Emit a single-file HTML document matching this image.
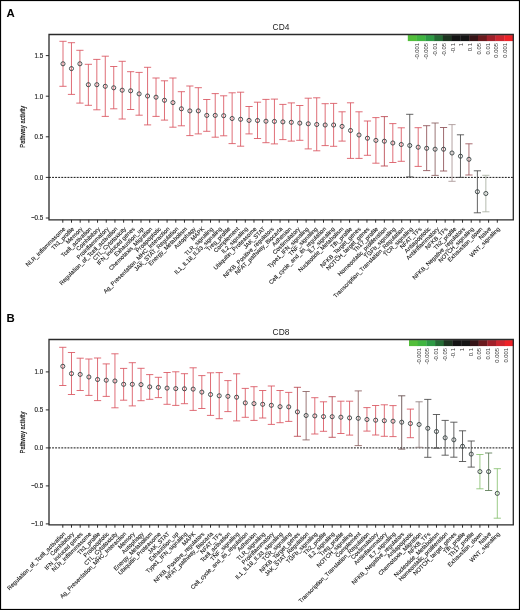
<!DOCTYPE html>
<html><head><meta charset="utf-8"><style>
html,body{margin:0;padding:0;background:#fff;}
body{width:520px;height:610px;overflow:hidden;}
svg{display:block;will-change:transform;}
</style></head><body>
<svg width="520" height="610" viewBox="0 0 520 610">
<rect x="0" y="0" width="520" height="610" fill="#fff"/>
<text x="6.6" y="16.6" style="font-family:'Liberation Sans',sans-serif;font-weight:bold;font-size:11.4px" fill="#000">A</text>
<text x="281" y="29.5" text-anchor="middle" style="font-family:'Liberation Sans',sans-serif;font-size:8.4px" fill="#222">CD4</text>
<rect x="407.80" y="35.1" width="9.07" height="6" fill="#52be3a"/>
<rect x="416.57" y="35.1" width="9.07" height="6" fill="#40b540"/>
<rect x="425.34" y="35.1" width="9.07" height="6" fill="#2d9a44"/>
<rect x="434.11" y="35.1" width="9.07" height="6" fill="#246a34"/>
<rect x="442.88" y="35.1" width="9.07" height="6" fill="#1d3320"/>
<rect x="451.65" y="35.1" width="9.07" height="6" fill="#141414"/>
<rect x="460.42" y="35.1" width="9.07" height="6" fill="#141414"/>
<rect x="469.19" y="35.1" width="9.07" height="6" fill="#361417"/>
<rect x="477.96" y="35.1" width="9.07" height="6" fill="#6a1a1e"/>
<rect x="486.73" y="35.1" width="9.07" height="6" fill="#a0202a"/>
<rect x="495.50" y="35.1" width="9.07" height="6" fill="#cc2630"/>
<rect x="504.27" y="35.1" width="9.07" height="6" fill="#ee2228"/>
<text x="419.47" y="43.10" transform="rotate(-90 419.47 43.10)" text-anchor="end" style="font-family:'Liberation Sans',sans-serif;font-size:5.8px" fill="#3a3a3a">-0.001</text>
<text x="428.24" y="43.10" transform="rotate(-90 428.24 43.10)" text-anchor="end" style="font-family:'Liberation Sans',sans-serif;font-size:5.8px" fill="#3a3a3a">-0.005</text>
<text x="437.01" y="43.10" transform="rotate(-90 437.01 43.10)" text-anchor="end" style="font-family:'Liberation Sans',sans-serif;font-size:5.8px" fill="#3a3a3a">-0.01</text>
<text x="445.78" y="43.10" transform="rotate(-90 445.78 43.10)" text-anchor="end" style="font-family:'Liberation Sans',sans-serif;font-size:5.8px" fill="#3a3a3a">-0.05</text>
<text x="454.55" y="43.10" transform="rotate(-90 454.55 43.10)" text-anchor="end" style="font-family:'Liberation Sans',sans-serif;font-size:5.8px" fill="#3a3a3a">-0.1</text>
<text x="463.32" y="43.10" transform="rotate(-90 463.32 43.10)" text-anchor="end" style="font-family:'Liberation Sans',sans-serif;font-size:5.8px" fill="#3a3a3a">1</text>
<text x="472.09" y="43.10" transform="rotate(-90 472.09 43.10)" text-anchor="end" style="font-family:'Liberation Sans',sans-serif;font-size:5.8px" fill="#3a3a3a">0.1</text>
<text x="480.86" y="43.10" transform="rotate(-90 480.86 43.10)" text-anchor="end" style="font-family:'Liberation Sans',sans-serif;font-size:5.8px" fill="#3a3a3a">0.05</text>
<text x="489.63" y="43.10" transform="rotate(-90 489.63 43.10)" text-anchor="end" style="font-family:'Liberation Sans',sans-serif;font-size:5.8px" fill="#3a3a3a">0.01</text>
<text x="498.40" y="43.10" transform="rotate(-90 498.40 43.10)" text-anchor="end" style="font-family:'Liberation Sans',sans-serif;font-size:5.8px" fill="#3a3a3a">0.005</text>
<text x="507.17" y="43.10" transform="rotate(-90 507.17 43.10)" text-anchor="end" style="font-family:'Liberation Sans',sans-serif;font-size:5.8px" fill="#3a3a3a">0.001</text>
<line x1="49" y1="177.4" x2="513.3" y2="177.4" stroke="#111" stroke-width="1" stroke-dasharray="1.9 1.18"/>
<g stroke="#d9545f" stroke-width="0.85" fill="none"><line x1="63.00" y1="41.3" x2="63.00" y2="86.3"/><line x1="59.40" y1="41.3" x2="66.60" y2="41.3"/><line x1="59.40" y1="86.3" x2="66.60" y2="86.3"/></g>
<circle cx="63.00" cy="63.8" r="2.05" fill="none" stroke="#344040" stroke-width="0.9"/>
<g stroke="#d9545f" stroke-width="0.85" fill="none"><line x1="71.46" y1="42.7" x2="71.46" y2="94.4"/><line x1="67.86" y1="42.7" x2="75.06" y2="42.7"/><line x1="67.86" y1="94.4" x2="75.06" y2="94.4"/></g>
<circle cx="71.46" cy="68.6" r="2.05" fill="none" stroke="#344040" stroke-width="0.9"/>
<g stroke="#d9545f" stroke-width="0.85" fill="none"><line x1="79.91" y1="50.3" x2="79.91" y2="103.1"/><line x1="76.31" y1="50.3" x2="83.51" y2="50.3"/><line x1="76.31" y1="103.1" x2="83.51" y2="103.1"/></g>
<circle cx="79.91" cy="63.8" r="2.05" fill="none" stroke="#344040" stroke-width="0.9"/>
<g stroke="#d9545f" stroke-width="0.85" fill="none"><line x1="88.37" y1="64.3" x2="88.37" y2="105.3"/><line x1="84.77" y1="64.3" x2="91.97" y2="64.3"/><line x1="84.77" y1="105.3" x2="91.97" y2="105.3"/></g>
<circle cx="88.37" cy="84.7" r="2.05" fill="none" stroke="#344040" stroke-width="0.9"/>
<g stroke="#d9545f" stroke-width="0.85" fill="none"><line x1="96.83" y1="59.4" x2="96.83" y2="109.8"/><line x1="93.23" y1="59.4" x2="100.43" y2="59.4"/><line x1="93.23" y1="109.8" x2="100.43" y2="109.8"/></g>
<circle cx="96.83" cy="84.7" r="2.05" fill="none" stroke="#344040" stroke-width="0.9"/>
<g stroke="#d9545f" stroke-width="0.85" fill="none"><line x1="105.28" y1="56.2" x2="105.28" y2="116.4"/><line x1="101.69" y1="56.2" x2="108.88" y2="56.2"/><line x1="101.69" y1="116.4" x2="108.88" y2="116.4"/></g>
<circle cx="105.28" cy="86.3" r="2.05" fill="none" stroke="#344040" stroke-width="0.9"/>
<g stroke="#d9545f" stroke-width="0.85" fill="none"><line x1="113.74" y1="66.5" x2="113.74" y2="108.8"/><line x1="110.14" y1="66.5" x2="117.34" y2="66.5"/><line x1="110.14" y1="108.8" x2="117.34" y2="108.8"/></g>
<circle cx="113.74" cy="87.8" r="2.05" fill="none" stroke="#344040" stroke-width="0.9"/>
<g stroke="#d9545f" stroke-width="0.85" fill="none"><line x1="122.20" y1="61.3" x2="122.20" y2="119.0"/><line x1="118.60" y1="61.3" x2="125.80" y2="61.3"/><line x1="118.60" y1="119.0" x2="125.80" y2="119.0"/></g>
<circle cx="122.20" cy="90.2" r="2.05" fill="none" stroke="#344040" stroke-width="0.9"/>
<g stroke="#d9545f" stroke-width="0.85" fill="none"><line x1="130.66" y1="71.7" x2="130.66" y2="109.5"/><line x1="127.06" y1="71.7" x2="134.26" y2="71.7"/><line x1="127.06" y1="109.5" x2="134.26" y2="109.5"/></g>
<circle cx="130.66" cy="90.8" r="2.05" fill="none" stroke="#344040" stroke-width="0.9"/>
<g stroke="#d9545f" stroke-width="0.85" fill="none"><line x1="139.11" y1="72.4" x2="139.11" y2="115.2"/><line x1="135.51" y1="72.4" x2="142.71" y2="72.4"/><line x1="135.51" y1="115.2" x2="142.71" y2="115.2"/></g>
<circle cx="139.11" cy="93.9" r="2.05" fill="none" stroke="#344040" stroke-width="0.9"/>
<g stroke="#d9545f" stroke-width="0.85" fill="none"><line x1="147.57" y1="67.3" x2="147.57" y2="124.9"/><line x1="143.97" y1="67.3" x2="151.17" y2="67.3"/><line x1="143.97" y1="124.9" x2="151.17" y2="124.9"/></g>
<circle cx="147.57" cy="96.0" r="2.05" fill="none" stroke="#344040" stroke-width="0.9"/>
<g stroke="#d9545f" stroke-width="0.85" fill="none"><line x1="156.03" y1="78.0" x2="156.03" y2="116.4"/><line x1="152.43" y1="78.0" x2="159.63" y2="78.0"/><line x1="152.43" y1="116.4" x2="159.63" y2="116.4"/></g>
<circle cx="156.03" cy="97.2" r="2.05" fill="none" stroke="#344040" stroke-width="0.9"/>
<g stroke="#d9545f" stroke-width="0.85" fill="none"><line x1="164.48" y1="80.8" x2="164.48" y2="120.1"/><line x1="160.88" y1="80.8" x2="168.08" y2="80.8"/><line x1="160.88" y1="120.1" x2="168.08" y2="120.1"/></g>
<circle cx="164.48" cy="100.3" r="2.05" fill="none" stroke="#344040" stroke-width="0.9"/>
<g stroke="#d9545f" stroke-width="0.85" fill="none"><line x1="172.94" y1="78.0" x2="172.94" y2="127.2"/><line x1="169.34" y1="78.0" x2="176.54" y2="78.0"/><line x1="169.34" y1="127.2" x2="176.54" y2="127.2"/></g>
<circle cx="172.94" cy="102.6" r="2.05" fill="none" stroke="#344040" stroke-width="0.9"/>
<g stroke="#d9545f" stroke-width="0.85" fill="none"><line x1="181.40" y1="91.7" x2="181.40" y2="125.8"/><line x1="177.80" y1="91.7" x2="185.00" y2="91.7"/><line x1="177.80" y1="125.8" x2="185.00" y2="125.8"/></g>
<circle cx="181.40" cy="108.8" r="2.05" fill="none" stroke="#344040" stroke-width="0.9"/>
<g stroke="#d9545f" stroke-width="0.85" fill="none"><line x1="189.86" y1="86.0" x2="189.86" y2="135.6"/><line x1="186.26" y1="86.0" x2="193.46" y2="86.0"/><line x1="186.26" y1="135.6" x2="193.46" y2="135.6"/></g>
<circle cx="189.86" cy="110.9" r="2.05" fill="none" stroke="#344040" stroke-width="0.9"/>
<g stroke="#d9545f" stroke-width="0.85" fill="none"><line x1="198.31" y1="87.7" x2="198.31" y2="133.9"/><line x1="194.71" y1="87.7" x2="201.91" y2="87.7"/><line x1="194.71" y1="133.9" x2="201.91" y2="133.9"/></g>
<circle cx="198.31" cy="110.9" r="2.05" fill="none" stroke="#344040" stroke-width="0.9"/>
<g stroke="#d9545f" stroke-width="0.85" fill="none"><line x1="206.77" y1="99.5" x2="206.77" y2="131.3"/><line x1="203.17" y1="99.5" x2="210.37" y2="99.5"/><line x1="203.17" y1="131.3" x2="210.37" y2="131.3"/></g>
<circle cx="206.77" cy="115.4" r="2.05" fill="none" stroke="#344040" stroke-width="0.9"/>
<g stroke="#d9545f" stroke-width="0.85" fill="none"><line x1="215.23" y1="93.6" x2="215.23" y2="137.2"/><line x1="211.63" y1="93.6" x2="218.83" y2="93.6"/><line x1="211.63" y1="137.2" x2="218.83" y2="137.2"/></g>
<circle cx="215.23" cy="115.4" r="2.05" fill="none" stroke="#344040" stroke-width="0.9"/>
<g stroke="#d9545f" stroke-width="0.85" fill="none"><line x1="223.68" y1="95.8" x2="223.68" y2="135.8"/><line x1="220.08" y1="95.8" x2="227.28" y2="95.8"/><line x1="220.08" y1="135.8" x2="227.28" y2="135.8"/></g>
<circle cx="223.68" cy="115.7" r="2.05" fill="none" stroke="#344040" stroke-width="0.9"/>
<g stroke="#d9545f" stroke-width="0.85" fill="none"><line x1="232.14" y1="92.8" x2="232.14" y2="143.6"/><line x1="228.54" y1="92.8" x2="235.74" y2="92.8"/><line x1="228.54" y1="143.6" x2="235.74" y2="143.6"/></g>
<circle cx="232.14" cy="118.5" r="2.05" fill="none" stroke="#344040" stroke-width="0.9"/>
<g stroke="#d9545f" stroke-width="0.85" fill="none"><line x1="240.60" y1="92.2" x2="240.60" y2="146.2"/><line x1="237.00" y1="92.2" x2="244.20" y2="92.2"/><line x1="237.00" y1="146.2" x2="244.20" y2="146.2"/></g>
<circle cx="240.60" cy="119.3" r="2.05" fill="none" stroke="#344040" stroke-width="0.9"/>
<g stroke="#d9545f" stroke-width="0.85" fill="none"><line x1="249.05" y1="106.5" x2="249.05" y2="133.9"/><line x1="245.45" y1="106.5" x2="252.65" y2="106.5"/><line x1="245.45" y1="133.9" x2="252.65" y2="133.9"/></g>
<circle cx="249.05" cy="120.4" r="2.05" fill="none" stroke="#344040" stroke-width="0.9"/>
<g stroke="#d9545f" stroke-width="0.85" fill="none"><line x1="257.51" y1="102.2" x2="257.51" y2="138.5"/><line x1="253.91" y1="102.2" x2="261.11" y2="102.2"/><line x1="253.91" y1="138.5" x2="261.11" y2="138.5"/></g>
<circle cx="257.51" cy="120.5" r="2.05" fill="none" stroke="#344040" stroke-width="0.9"/>
<g stroke="#d9545f" stroke-width="0.85" fill="none"><line x1="265.97" y1="99.4" x2="265.97" y2="142.7"/><line x1="262.37" y1="99.4" x2="269.57" y2="99.4"/><line x1="262.37" y1="142.7" x2="269.57" y2="142.7"/></g>
<circle cx="265.97" cy="121.2" r="2.05" fill="none" stroke="#344040" stroke-width="0.9"/>
<g stroke="#d9545f" stroke-width="0.85" fill="none"><line x1="274.43" y1="99.1" x2="274.43" y2="143.9"/><line x1="270.82" y1="99.1" x2="278.03" y2="99.1"/><line x1="270.82" y1="143.9" x2="278.03" y2="143.9"/></g>
<circle cx="274.43" cy="121.4" r="2.05" fill="none" stroke="#344040" stroke-width="0.9"/>
<g stroke="#d9545f" stroke-width="0.85" fill="none"><line x1="282.88" y1="104.4" x2="282.88" y2="139.6"/><line x1="279.28" y1="104.4" x2="286.48" y2="104.4"/><line x1="279.28" y1="139.6" x2="286.48" y2="139.6"/></g>
<circle cx="282.88" cy="121.9" r="2.05" fill="none" stroke="#344040" stroke-width="0.9"/>
<g stroke="#d9545f" stroke-width="0.85" fill="none"><line x1="291.34" y1="102.9" x2="291.34" y2="141.1"/><line x1="287.74" y1="102.9" x2="294.94" y2="102.9"/><line x1="287.74" y1="141.1" x2="294.94" y2="141.1"/></g>
<circle cx="291.34" cy="122.3" r="2.05" fill="none" stroke="#344040" stroke-width="0.9"/>
<g stroke="#d9545f" stroke-width="0.85" fill="none"><line x1="299.80" y1="105.5" x2="299.80" y2="140.3"/><line x1="296.20" y1="105.5" x2="303.40" y2="105.5"/><line x1="296.20" y1="140.3" x2="303.40" y2="140.3"/></g>
<circle cx="299.80" cy="123.1" r="2.05" fill="none" stroke="#344040" stroke-width="0.9"/>
<g stroke="#d9545f" stroke-width="0.85" fill="none"><line x1="308.25" y1="98.2" x2="308.25" y2="148.9"/><line x1="304.65" y1="98.2" x2="311.85" y2="98.2"/><line x1="304.65" y1="148.9" x2="311.85" y2="148.9"/></g>
<circle cx="308.25" cy="123.8" r="2.05" fill="none" stroke="#344040" stroke-width="0.9"/>
<g stroke="#d9545f" stroke-width="0.85" fill="none"><line x1="316.71" y1="97.8" x2="316.71" y2="150.8"/><line x1="313.11" y1="97.8" x2="320.31" y2="97.8"/><line x1="313.11" y1="150.8" x2="320.31" y2="150.8"/></g>
<circle cx="316.71" cy="124.5" r="2.05" fill="none" stroke="#344040" stroke-width="0.9"/>
<g stroke="#d9545f" stroke-width="0.85" fill="none"><line x1="325.17" y1="103.7" x2="325.17" y2="145.6"/><line x1="321.57" y1="103.7" x2="328.77" y2="103.7"/><line x1="321.57" y1="145.6" x2="328.77" y2="145.6"/></g>
<circle cx="325.17" cy="125.0" r="2.05" fill="none" stroke="#344040" stroke-width="0.9"/>
<g stroke="#d9545f" stroke-width="0.85" fill="none"><line x1="333.62" y1="103.4" x2="333.62" y2="146.3"/><line x1="330.02" y1="103.4" x2="337.22" y2="103.4"/><line x1="330.02" y1="146.3" x2="337.22" y2="146.3"/></g>
<circle cx="333.62" cy="125.0" r="2.05" fill="none" stroke="#344040" stroke-width="0.9"/>
<g stroke="#d9545f" stroke-width="0.85" fill="none"><line x1="342.08" y1="111.8" x2="342.08" y2="141.1"/><line x1="338.48" y1="111.8" x2="345.68" y2="111.8"/><line x1="338.48" y1="141.1" x2="345.68" y2="141.1"/></g>
<circle cx="342.08" cy="126.4" r="2.05" fill="none" stroke="#344040" stroke-width="0.9"/>
<g stroke="#d9545f" stroke-width="0.85" fill="none"><line x1="350.54" y1="102.8" x2="350.54" y2="158.4"/><line x1="346.94" y1="102.8" x2="354.14" y2="102.8"/><line x1="346.94" y1="158.4" x2="354.14" y2="158.4"/></g>
<circle cx="350.54" cy="130.5" r="2.05" fill="none" stroke="#344040" stroke-width="0.9"/>
<g stroke="#d9545f" stroke-width="0.85" fill="none"><line x1="359.00" y1="111.8" x2="359.00" y2="158.4"/><line x1="355.39" y1="111.8" x2="362.60" y2="111.8"/><line x1="355.39" y1="158.4" x2="362.60" y2="158.4"/></g>
<circle cx="359.00" cy="135.0" r="2.05" fill="none" stroke="#344040" stroke-width="0.9"/>
<g stroke="#d9545f" stroke-width="0.85" fill="none"><line x1="367.45" y1="121.0" x2="367.45" y2="155.3"/><line x1="363.85" y1="121.0" x2="371.05" y2="121.0"/><line x1="363.85" y1="155.3" x2="371.05" y2="155.3"/></g>
<circle cx="367.45" cy="138.2" r="2.05" fill="none" stroke="#344040" stroke-width="0.9"/>
<g stroke="#d9545f" stroke-width="0.85" fill="none"><line x1="375.91" y1="117.6" x2="375.91" y2="163.2"/><line x1="372.31" y1="117.6" x2="379.51" y2="117.6"/><line x1="372.31" y1="163.2" x2="379.51" y2="163.2"/></g>
<circle cx="375.91" cy="140.4" r="2.05" fill="none" stroke="#344040" stroke-width="0.9"/>
<g stroke="#b8464f" stroke-width="0.85" fill="none"><line x1="384.37" y1="116.6" x2="384.37" y2="166.0"/><line x1="380.77" y1="116.6" x2="387.97" y2="116.6"/><line x1="380.77" y1="166.0" x2="387.97" y2="166.0"/></g>
<circle cx="384.37" cy="141.2" r="2.05" fill="none" stroke="#344040" stroke-width="0.9"/>
<g stroke="#d9545f" stroke-width="0.85" fill="none"><line x1="392.82" y1="123.6" x2="392.82" y2="162.5"/><line x1="389.22" y1="123.6" x2="396.42" y2="123.6"/><line x1="389.22" y1="162.5" x2="396.42" y2="162.5"/></g>
<circle cx="392.82" cy="143.0" r="2.05" fill="none" stroke="#344040" stroke-width="0.9"/>
<g stroke="#d9545f" stroke-width="0.85" fill="none"><line x1="401.28" y1="127.8" x2="401.28" y2="161.3"/><line x1="397.68" y1="127.8" x2="404.88" y2="127.8"/><line x1="397.68" y1="161.3" x2="404.88" y2="161.3"/></g>
<circle cx="401.28" cy="144.5" r="2.05" fill="none" stroke="#344040" stroke-width="0.9"/>
<g stroke="#484848" stroke-width="0.85" fill="none"><line x1="409.74" y1="114.3" x2="409.74" y2="176.9"/><line x1="406.14" y1="114.3" x2="413.34" y2="114.3"/><line x1="406.14" y1="176.9" x2="413.34" y2="176.9"/></g>
<circle cx="409.74" cy="145.5" r="2.05" fill="none" stroke="#344040" stroke-width="0.9"/>
<g stroke="#d9545f" stroke-width="0.85" fill="none"><line x1="418.19" y1="127.7" x2="418.19" y2="166.4"/><line x1="414.59" y1="127.7" x2="421.79" y2="127.7"/><line x1="414.59" y1="166.4" x2="421.79" y2="166.4"/></g>
<circle cx="418.19" cy="147.2" r="2.05" fill="none" stroke="#344040" stroke-width="0.9"/>
<g stroke="#8e5056" stroke-width="0.85" fill="none"><line x1="426.65" y1="125.7" x2="426.65" y2="170.6"/><line x1="423.05" y1="125.7" x2="430.25" y2="125.7"/><line x1="423.05" y1="170.6" x2="430.25" y2="170.6"/></g>
<circle cx="426.65" cy="148.3" r="2.05" fill="none" stroke="#344040" stroke-width="0.9"/>
<g stroke="#8a6060" stroke-width="0.85" fill="none"><line x1="435.11" y1="123.0" x2="435.11" y2="175.4"/><line x1="431.51" y1="123.0" x2="438.71" y2="123.0"/><line x1="431.51" y1="175.4" x2="438.71" y2="175.4"/></g>
<circle cx="435.11" cy="149.2" r="2.05" fill="none" stroke="#344040" stroke-width="0.9"/>
<g stroke="#8e5056" stroke-width="0.85" fill="none"><line x1="443.57" y1="127.5" x2="443.57" y2="171.0"/><line x1="439.97" y1="127.5" x2="447.17" y2="127.5"/><line x1="439.97" y1="171.0" x2="447.17" y2="171.0"/></g>
<circle cx="443.57" cy="149.2" r="2.05" fill="none" stroke="#344040" stroke-width="0.9"/>
<g stroke="#a89494" stroke-width="0.85" fill="none"><line x1="452.02" y1="124.6" x2="452.02" y2="181.3"/><line x1="448.42" y1="124.6" x2="455.62" y2="124.6"/><line x1="448.42" y1="181.3" x2="455.62" y2="181.3"/></g>
<circle cx="452.02" cy="153.0" r="2.05" fill="none" stroke="#344040" stroke-width="0.9"/>
<g stroke="#484848" stroke-width="0.85" fill="none"><line x1="460.48" y1="134.8" x2="460.48" y2="177.4"/><line x1="456.88" y1="134.8" x2="464.08" y2="134.8"/><line x1="456.88" y1="177.4" x2="464.08" y2="177.4"/></g>
<circle cx="460.48" cy="156.2" r="2.05" fill="none" stroke="#344040" stroke-width="0.9"/>
<g stroke="#9a5458" stroke-width="0.85" fill="none"><line x1="468.94" y1="143.8" x2="468.94" y2="175.0"/><line x1="465.34" y1="143.8" x2="472.54" y2="143.8"/><line x1="465.34" y1="175.0" x2="472.54" y2="175.0"/></g>
<circle cx="468.94" cy="159.3" r="2.05" fill="none" stroke="#344040" stroke-width="0.9"/>
<g stroke="#484848" stroke-width="0.85" fill="none"><line x1="477.39" y1="170.8" x2="477.39" y2="212.8"/><line x1="473.79" y1="170.8" x2="480.99" y2="170.8"/><line x1="473.79" y1="212.8" x2="480.99" y2="212.8"/></g>
<circle cx="477.39" cy="191.7" r="2.05" fill="none" stroke="#344040" stroke-width="0.9"/>
<g stroke="#a9b0a2" stroke-width="0.85" fill="none"><line x1="485.85" y1="175.3" x2="485.85" y2="211.8"/><line x1="482.25" y1="175.3" x2="489.45" y2="175.3"/><line x1="482.25" y1="211.8" x2="489.45" y2="211.8"/></g>
<circle cx="485.85" cy="193.5" r="2.05" fill="none" stroke="#344040" stroke-width="0.9"/>
<path d="M49 34.5H513.3V219.8H49Z" fill="none" stroke="#2a2a2a" stroke-width="1.3"/>
<line x1="45.8" y1="55.60" x2="49" y2="55.60" stroke="#2a2a2a" stroke-width="1"/>
<text transform="translate(43.2 57.90) scale(0.885 1)" text-anchor="end" style="font-family:'Liberation Sans',sans-serif;font-size:7px" fill="#1a1a1a" stroke="#1a1a1a" stroke-width="0.15">1.5</text>
<line x1="45.8" y1="96.20" x2="49" y2="96.20" stroke="#2a2a2a" stroke-width="1"/>
<text transform="translate(43.2 98.50) scale(0.885 1)" text-anchor="end" style="font-family:'Liberation Sans',sans-serif;font-size:7px" fill="#1a1a1a" stroke="#1a1a1a" stroke-width="0.15">1.0</text>
<line x1="45.8" y1="136.80" x2="49" y2="136.80" stroke="#2a2a2a" stroke-width="1"/>
<text transform="translate(43.2 139.10) scale(0.885 1)" text-anchor="end" style="font-family:'Liberation Sans',sans-serif;font-size:7px" fill="#1a1a1a" stroke="#1a1a1a" stroke-width="0.15">0.5</text>
<line x1="45.8" y1="177.40" x2="49" y2="177.40" stroke="#2a2a2a" stroke-width="1"/>
<text transform="translate(43.2 179.70) scale(0.885 1)" text-anchor="end" style="font-family:'Liberation Sans',sans-serif;font-size:7px" fill="#1a1a1a" stroke="#1a1a1a" stroke-width="0.15">0.0</text>
<line x1="45.8" y1="218.00" x2="49" y2="218.00" stroke="#2a2a2a" stroke-width="1"/>
<text transform="translate(43.2 220.30) scale(0.885 1)" text-anchor="end" style="font-family:'Liberation Sans',sans-serif;font-size:7px" fill="#1a1a1a" stroke="#1a1a1a" stroke-width="0.15">−0.5</text>
<text transform="translate(24.6 126.7) rotate(-90) scale(0.8 1)" text-anchor="middle" style="font-family:'Liberation Sans',sans-serif;font-size:7.3px" fill="#111" stroke="#111" stroke-width="0.2">Pathway activity</text>
<line x1="62.80" y1="219.8" x2="62.80" y2="222.70000000000002" stroke="#2a2a2a" stroke-width="1"/>
<text x="65.80" y="229.30" transform="rotate(-45 65.80 229.30)" text-anchor="end" style="font-family:'Liberation Sans',sans-serif;font-size:5.9px" fill="#111" stroke="#111" stroke-width="0.08">NLR_inflammasome</text>
<line x1="71.49" y1="219.8" x2="71.49" y2="222.70000000000002" stroke="#2a2a2a" stroke-width="1"/>
<text x="74.49" y="229.30" transform="rotate(-45 74.49 229.30)" text-anchor="end" style="font-family:'Liberation Sans',sans-serif;font-size:5.9px" fill="#111" stroke="#111" stroke-width="0.08">Th1_profile</text>
<line x1="80.18" y1="219.8" x2="80.18" y2="222.70000000000002" stroke="#2a2a2a" stroke-width="1"/>
<text x="83.18" y="229.30" transform="rotate(-45 83.18 229.30)" text-anchor="end" style="font-family:'Liberation Sans',sans-serif;font-size:5.9px" fill="#111" stroke="#111" stroke-width="0.08">Memory</text>
<line x1="88.87" y1="219.8" x2="88.87" y2="222.70000000000002" stroke="#2a2a2a" stroke-width="1"/>
<text x="91.87" y="229.30" transform="rotate(-45 91.87 229.30)" text-anchor="end" style="font-family:'Liberation Sans',sans-serif;font-size:5.9px" fill="#111" stroke="#111" stroke-width="0.08">Tcell_activation</text>
<line x1="97.56" y1="219.8" x2="97.56" y2="222.70000000000002" stroke="#2a2a2a" stroke-width="1"/>
<text x="100.56" y="229.30" transform="rotate(-45 100.56 229.30)" text-anchor="end" style="font-family:'Liberation Sans',sans-serif;font-size:5.9px" fill="#111" stroke="#111" stroke-width="0.08">Coinhibitory</text>
<line x1="106.25" y1="219.8" x2="106.25" y2="222.70000000000002" stroke="#2a2a2a" stroke-width="1"/>
<text x="109.25" y="229.30" transform="rotate(-45 109.25 229.30)" text-anchor="end" style="font-family:'Liberation Sans',sans-serif;font-size:5.9px" fill="#111" stroke="#111" stroke-width="0.08">Proinflammatory</text>
<line x1="114.94" y1="219.8" x2="114.94" y2="222.70000000000002" stroke="#2a2a2a" stroke-width="1"/>
<text x="117.94" y="229.30" transform="rotate(-45 117.94 229.30)" text-anchor="end" style="font-family:'Liberation Sans',sans-serif;font-size:5.9px" fill="#111" stroke="#111" stroke-width="0.08">Regulation_of_Tcell_activation</text>
<line x1="123.63" y1="219.8" x2="123.63" y2="222.70000000000002" stroke="#2a2a2a" stroke-width="1"/>
<text x="126.63" y="229.30" transform="rotate(-45 126.63 229.30)" text-anchor="end" style="font-family:'Liberation Sans',sans-serif;font-size:5.9px" fill="#111" stroke="#111" stroke-width="0.08">CTL_Cytotoxicity</text>
<line x1="132.32" y1="219.8" x2="132.32" y2="222.70000000000002" stroke="#2a2a2a" stroke-width="1"/>
<text x="135.32" y="229.30" transform="rotate(-45 135.32 229.30)" text-anchor="end" style="font-family:'Liberation Sans',sans-serif;font-size:5.9px" fill="#111" stroke="#111" stroke-width="0.08">IFN_induced genes</text>
<line x1="141.01" y1="219.8" x2="141.01" y2="222.70000000000002" stroke="#2a2a2a" stroke-width="1"/>
<text x="144.01" y="229.30" transform="rotate(-45 144.01 229.30)" text-anchor="end" style="font-family:'Liberation Sans',sans-serif;font-size:5.9px" fill="#111" stroke="#111" stroke-width="0.08">Exhaustion_up</text>
<line x1="149.70" y1="219.8" x2="149.70" y2="222.70000000000002" stroke="#2a2a2a" stroke-width="1"/>
<text x="152.70" y="229.30" transform="rotate(-45 152.70 229.30)" text-anchor="end" style="font-family:'Liberation Sans',sans-serif;font-size:5.9px" fill="#111" stroke="#111" stroke-width="0.08">Chemotaxis_Migration</text>
<line x1="158.39" y1="219.8" x2="158.39" y2="222.70000000000002" stroke="#2a2a2a" stroke-width="1"/>
<text x="161.39" y="229.30" transform="rotate(-45 161.39 229.30)" text-anchor="end" style="font-family:'Liberation Sans',sans-serif;font-size:5.9px" fill="#111" stroke="#111" stroke-width="0.08">Proapoptotic</text>
<line x1="167.08" y1="219.8" x2="167.08" y2="222.70000000000002" stroke="#2a2a2a" stroke-width="1"/>
<text x="170.08" y="229.30" transform="rotate(-45 170.08 229.30)" text-anchor="end" style="font-family:'Liberation Sans',sans-serif;font-size:5.9px" fill="#111" stroke="#111" stroke-width="0.08">Ag_Presentation_MHC_Interaction</text>
<line x1="175.77" y1="219.8" x2="175.77" y2="222.70000000000002" stroke="#2a2a2a" stroke-width="1"/>
<text x="178.77" y="229.30" transform="rotate(-45 178.77 229.30)" text-anchor="end" style="font-family:'Liberation Sans',sans-serif;font-size:5.9px" fill="#111" stroke="#111" stroke-width="0.08">JAK_STAT_Regulation</text>
<line x1="184.46" y1="219.8" x2="184.46" y2="222.70000000000002" stroke="#2a2a2a" stroke-width="1"/>
<text x="187.46" y="229.30" transform="rotate(-45 187.46 229.30)" text-anchor="end" style="font-family:'Liberation Sans',sans-serif;font-size:5.9px" fill="#111" stroke="#111" stroke-width="0.08">Energy_Metabolism</text>
<line x1="193.15" y1="219.8" x2="193.15" y2="222.70000000000002" stroke="#2a2a2a" stroke-width="1"/>
<text x="196.15" y="229.30" transform="rotate(-45 196.15 229.30)" text-anchor="end" style="font-family:'Liberation Sans',sans-serif;font-size:5.9px" fill="#111" stroke="#111" stroke-width="0.08">Autophagy</text>
<line x1="201.84" y1="219.8" x2="201.84" y2="222.70000000000002" stroke="#2a2a2a" stroke-width="1"/>
<text x="204.84" y="229.30" transform="rotate(-45 204.84 229.30)" text-anchor="end" style="font-family:'Liberation Sans',sans-serif;font-size:5.9px" fill="#111" stroke="#111" stroke-width="0.08">MAPK</text>
<line x1="210.53" y1="219.8" x2="210.53" y2="222.70000000000002" stroke="#2a2a2a" stroke-width="1"/>
<text x="213.53" y="229.30" transform="rotate(-45 213.53 229.30)" text-anchor="end" style="font-family:'Liberation Sans',sans-serif;font-size:5.9px" fill="#111" stroke="#111" stroke-width="0.08">TLR_signaling</text>
<line x1="219.22" y1="219.8" x2="219.22" y2="222.70000000000002" stroke="#2a2a2a" stroke-width="1"/>
<text x="222.22" y="229.30" transform="rotate(-45 222.22 229.30)" text-anchor="end" style="font-family:'Liberation Sans',sans-serif;font-size:5.9px" fill="#111" stroke="#111" stroke-width="0.08">IL1_IL18_IL33_signaling</text>
<line x1="227.91" y1="219.8" x2="227.91" y2="222.70000000000002" stroke="#2a2a2a" stroke-width="1"/>
<text x="230.91" y="229.30" transform="rotate(-45 230.91 229.30)" text-anchor="end" style="font-family:'Liberation Sans',sans-serif;font-size:5.9px" fill="#111" stroke="#111" stroke-width="0.08">Treg_profile</text>
<line x1="236.60" y1="219.8" x2="236.60" y2="222.70000000000002" stroke="#2a2a2a" stroke-width="1"/>
<text x="239.60" y="229.30" transform="rotate(-45 239.60 229.30)" text-anchor="end" style="font-family:'Liberation Sans',sans-serif;font-size:5.9px" fill="#111" stroke="#111" stroke-width="0.08">Complement</text>
<line x1="245.29" y1="219.8" x2="245.29" y2="222.70000000000002" stroke="#2a2a2a" stroke-width="1"/>
<text x="248.29" y="229.30" transform="rotate(-45 248.29 229.30)" text-anchor="end" style="font-family:'Liberation Sans',sans-serif;font-size:5.9px" fill="#111" stroke="#111" stroke-width="0.08">IL2_signaling</text>
<line x1="253.98" y1="219.8" x2="253.98" y2="222.70000000000002" stroke="#2a2a2a" stroke-width="1"/>
<text x="256.98" y="229.30" transform="rotate(-45 256.98 229.30)" text-anchor="end" style="font-family:'Liberation Sans',sans-serif;font-size:5.9px" fill="#111" stroke="#111" stroke-width="0.08">Ubiquitin_Proteasome</text>
<line x1="262.67" y1="219.8" x2="262.67" y2="222.70000000000002" stroke="#2a2a2a" stroke-width="1"/>
<text x="265.67" y="229.30" transform="rotate(-45 265.67 229.30)" text-anchor="end" style="font-family:'Liberation Sans',sans-serif;font-size:5.9px" fill="#111" stroke="#111" stroke-width="0.08">JAK_STAT</text>
<line x1="271.36" y1="219.8" x2="271.36" y2="222.70000000000002" stroke="#2a2a2a" stroke-width="1"/>
<text x="274.36" y="229.30" transform="rotate(-45 274.36 229.30)" text-anchor="end" style="font-family:'Liberation Sans',sans-serif;font-size:5.9px" fill="#111" stroke="#111" stroke-width="0.08">NFKB_Positive_regulators</text>
<line x1="280.05" y1="219.8" x2="280.05" y2="222.70000000000002" stroke="#2a2a2a" stroke-width="1"/>
<text x="283.05" y="229.30" transform="rotate(-45 283.05 229.30)" text-anchor="end" style="font-family:'Liberation Sans',sans-serif;font-size:5.9px" fill="#111" stroke="#111" stroke-width="0.08">NFAT_pathway_Biocarta</text>
<line x1="288.74" y1="219.8" x2="288.74" y2="222.70000000000002" stroke="#2a2a2a" stroke-width="1"/>
<text x="291.74" y="229.30" transform="rotate(-45 291.74 229.30)" text-anchor="end" style="font-family:'Liberation Sans',sans-serif;font-size:5.9px" fill="#111" stroke="#111" stroke-width="0.08">Adhesion</text>
<line x1="297.43" y1="219.8" x2="297.43" y2="222.70000000000002" stroke="#2a2a2a" stroke-width="1"/>
<text x="300.43" y="229.30" transform="rotate(-45 300.43 229.30)" text-anchor="end" style="font-family:'Liberation Sans',sans-serif;font-size:5.9px" fill="#111" stroke="#111" stroke-width="0.08">Costimulatory</text>
<line x1="306.12" y1="219.8" x2="306.12" y2="222.70000000000002" stroke="#2a2a2a" stroke-width="1"/>
<text x="309.12" y="229.30" transform="rotate(-45 309.12 229.30)" text-anchor="end" style="font-family:'Liberation Sans',sans-serif;font-size:5.9px" fill="#111" stroke="#111" stroke-width="0.08">Type1_IFN_signaling</text>
<line x1="314.81" y1="219.8" x2="314.81" y2="222.70000000000002" stroke="#2a2a2a" stroke-width="1"/>
<text x="317.81" y="229.30" transform="rotate(-45 317.81 229.30)" text-anchor="end" style="font-family:'Liberation Sans',sans-serif;font-size:5.9px" fill="#111" stroke="#111" stroke-width="0.08">TNF_signaling</text>
<line x1="323.50" y1="219.8" x2="323.50" y2="222.70000000000002" stroke="#2a2a2a" stroke-width="1"/>
<text x="326.50" y="229.30" transform="rotate(-45 326.50 229.30)" text-anchor="end" style="font-family:'Liberation Sans',sans-serif;font-size:5.9px" fill="#111" stroke="#111" stroke-width="0.08">Cell_cycle_and_its_regulation</text>
<line x1="332.19" y1="219.8" x2="332.19" y2="222.70000000000002" stroke="#2a2a2a" stroke-width="1"/>
<text x="335.19" y="229.30" transform="rotate(-45 335.19 229.30)" text-anchor="end" style="font-family:'Liberation Sans',sans-serif;font-size:5.9px" fill="#111" stroke="#111" stroke-width="0.08">IL7_signaling</text>
<line x1="340.88" y1="219.8" x2="340.88" y2="222.70000000000002" stroke="#2a2a2a" stroke-width="1"/>
<text x="343.88" y="229.30" transform="rotate(-45 343.88 229.30)" text-anchor="end" style="font-family:'Liberation Sans',sans-serif;font-size:5.9px" fill="#111" stroke="#111" stroke-width="0.08">Nucleotide_Metabolism</text>
<line x1="349.57" y1="219.8" x2="349.57" y2="222.70000000000002" stroke="#2a2a2a" stroke-width="1"/>
<text x="352.57" y="229.30" transform="rotate(-45 352.57 229.30)" text-anchor="end" style="font-family:'Liberation Sans',sans-serif;font-size:5.9px" fill="#111" stroke="#111" stroke-width="0.08">Tfh_profile</text>
<line x1="358.26" y1="219.8" x2="358.26" y2="222.70000000000002" stroke="#2a2a2a" stroke-width="1"/>
<text x="361.26" y="229.30" transform="rotate(-45 361.26 229.30)" text-anchor="end" style="font-family:'Liberation Sans',sans-serif;font-size:5.9px" fill="#111" stroke="#111" stroke-width="0.08">NFKB_Target_genes</text>
<line x1="366.95" y1="219.8" x2="366.95" y2="222.70000000000002" stroke="#2a2a2a" stroke-width="1"/>
<text x="369.95" y="229.30" transform="rotate(-45 369.95 229.30)" text-anchor="end" style="font-family:'Liberation Sans',sans-serif;font-size:5.9px" fill="#111" stroke="#111" stroke-width="0.08">NOTCH_target_genes</text>
<line x1="375.64" y1="219.8" x2="375.64" y2="222.70000000000002" stroke="#2a2a2a" stroke-width="1"/>
<text x="378.64" y="229.30" transform="rotate(-45 378.64 229.30)" text-anchor="end" style="font-family:'Liberation Sans',sans-serif;font-size:5.9px" fill="#111" stroke="#111" stroke-width="0.08">Th17_profile</text>
<line x1="384.33" y1="219.8" x2="384.33" y2="222.70000000000002" stroke="#2a2a2a" stroke-width="1"/>
<text x="387.33" y="229.30" transform="rotate(-45 387.33 229.30)" text-anchor="end" style="font-family:'Liberation Sans',sans-serif;font-size:5.9px" fill="#111" stroke="#111" stroke-width="0.08">Homeostatic_proliferation</text>
<line x1="393.02" y1="219.8" x2="393.02" y2="222.70000000000002" stroke="#2a2a2a" stroke-width="1"/>
<text x="396.02" y="229.30" transform="rotate(-45 396.02 229.30)" text-anchor="end" style="font-family:'Liberation Sans',sans-serif;font-size:5.9px" fill="#111" stroke="#111" stroke-width="0.08">TGFb_signaling</text>
<line x1="401.71" y1="219.8" x2="401.71" y2="222.70000000000002" stroke="#2a2a2a" stroke-width="1"/>
<text x="404.71" y="229.30" transform="rotate(-45 404.71 229.30)" text-anchor="end" style="font-family:'Liberation Sans',sans-serif;font-size:5.9px" fill="#111" stroke="#111" stroke-width="0.08">Transcription_Translation_Regulation</text>
<line x1="410.40" y1="219.8" x2="410.40" y2="222.70000000000002" stroke="#2a2a2a" stroke-width="1"/>
<text x="413.40" y="229.30" transform="rotate(-45 413.40 229.30)" text-anchor="end" style="font-family:'Liberation Sans',sans-serif;font-size:5.9px" fill="#111" stroke="#111" stroke-width="0.08">TCR_signaling</text>
<line x1="419.09" y1="219.8" x2="419.09" y2="222.70000000000002" stroke="#2a2a2a" stroke-width="1"/>
<text x="422.09" y="229.30" transform="rotate(-45 422.09 229.30)" text-anchor="end" style="font-family:'Liberation Sans',sans-serif;font-size:5.9px" fill="#111" stroke="#111" stroke-width="0.08">NFAT_TFs</text>
<line x1="427.78" y1="219.8" x2="427.78" y2="222.70000000000002" stroke="#2a2a2a" stroke-width="1"/>
<text x="430.78" y="229.30" transform="rotate(-45 430.78 229.30)" text-anchor="end" style="font-family:'Liberation Sans',sans-serif;font-size:5.9px" fill="#111" stroke="#111" stroke-width="0.08">Antiapoptotic</text>
<line x1="436.47" y1="219.8" x2="436.47" y2="222.70000000000002" stroke="#2a2a2a" stroke-width="1"/>
<text x="439.47" y="229.30" transform="rotate(-45 439.47 229.30)" text-anchor="end" style="font-family:'Liberation Sans',sans-serif;font-size:5.9px" fill="#111" stroke="#111" stroke-width="0.08">Antiinflammatory</text>
<line x1="445.16" y1="219.8" x2="445.16" y2="222.70000000000002" stroke="#2a2a2a" stroke-width="1"/>
<text x="448.16" y="229.30" transform="rotate(-45 448.16 229.30)" text-anchor="end" style="font-family:'Liberation Sans',sans-serif;font-size:5.9px" fill="#111" stroke="#111" stroke-width="0.08">NFKB_TFs</text>
<line x1="453.85" y1="219.8" x2="453.85" y2="222.70000000000002" stroke="#2a2a2a" stroke-width="1"/>
<text x="456.85" y="229.30" transform="rotate(-45 456.85 229.30)" text-anchor="end" style="font-family:'Liberation Sans',sans-serif;font-size:5.9px" fill="#111" stroke="#111" stroke-width="0.08">Th2_profile</text>
<line x1="462.54" y1="219.8" x2="462.54" y2="222.70000000000002" stroke="#2a2a2a" stroke-width="1"/>
<text x="465.54" y="229.30" transform="rotate(-45 465.54 229.30)" text-anchor="end" style="font-family:'Liberation Sans',sans-serif;font-size:5.9px" fill="#111" stroke="#111" stroke-width="0.08">NFKB_Negative_regulators</text>
<line x1="471.23" y1="219.8" x2="471.23" y2="222.70000000000002" stroke="#2a2a2a" stroke-width="1"/>
<text x="474.23" y="229.30" transform="rotate(-45 474.23 229.30)" text-anchor="end" style="font-family:'Liberation Sans',sans-serif;font-size:5.9px" fill="#111" stroke="#111" stroke-width="0.08">NOTCH_signaling</text>
<line x1="479.92" y1="219.8" x2="479.92" y2="222.70000000000002" stroke="#2a2a2a" stroke-width="1"/>
<text x="482.92" y="229.30" transform="rotate(-45 482.92 229.30)" text-anchor="end" style="font-family:'Liberation Sans',sans-serif;font-size:5.9px" fill="#111" stroke="#111" stroke-width="0.08">Exhaustion_down</text>
<line x1="488.61" y1="219.8" x2="488.61" y2="222.70000000000002" stroke="#2a2a2a" stroke-width="1"/>
<text x="491.61" y="229.30" transform="rotate(-45 491.61 229.30)" text-anchor="end" style="font-family:'Liberation Sans',sans-serif;font-size:5.9px" fill="#111" stroke="#111" stroke-width="0.08">Naive</text>
<line x1="497.30" y1="219.8" x2="497.30" y2="222.70000000000002" stroke="#2a2a2a" stroke-width="1"/>
<text x="500.30" y="229.30" transform="rotate(-45 500.30 229.30)" text-anchor="end" style="font-family:'Liberation Sans',sans-serif;font-size:5.9px" fill="#111" stroke="#111" stroke-width="0.08">WNT_signaling</text>
<text x="6.6" y="322.0" style="font-family:'Liberation Sans',sans-serif;font-weight:bold;font-size:11.4px" fill="#000">B</text>
<text x="281" y="334.5" text-anchor="middle" style="font-family:'Liberation Sans',sans-serif;font-size:8.4px" fill="#222">CD8</text>
<rect x="409.00" y="340.1" width="9.00" height="6" fill="#52be3a"/>
<rect x="417.70" y="340.1" width="9.00" height="6" fill="#40b540"/>
<rect x="426.40" y="340.1" width="9.00" height="6" fill="#2d9a44"/>
<rect x="435.10" y="340.1" width="9.00" height="6" fill="#246a34"/>
<rect x="443.80" y="340.1" width="9.00" height="6" fill="#1d3320"/>
<rect x="452.50" y="340.1" width="9.00" height="6" fill="#141414"/>
<rect x="461.20" y="340.1" width="9.00" height="6" fill="#141414"/>
<rect x="469.90" y="340.1" width="9.00" height="6" fill="#361417"/>
<rect x="478.60" y="340.1" width="9.00" height="6" fill="#6a1a1e"/>
<rect x="487.30" y="340.1" width="9.00" height="6" fill="#a0202a"/>
<rect x="496.00" y="340.1" width="9.00" height="6" fill="#cc2630"/>
<rect x="504.70" y="340.1" width="9.00" height="6" fill="#ee2228"/>
<text x="420.60" y="348.10" transform="rotate(-90 420.60 348.10)" text-anchor="end" style="font-family:'Liberation Sans',sans-serif;font-size:5.8px" fill="#3a3a3a">-0.001</text>
<text x="429.30" y="348.10" transform="rotate(-90 429.30 348.10)" text-anchor="end" style="font-family:'Liberation Sans',sans-serif;font-size:5.8px" fill="#3a3a3a">-0.005</text>
<text x="438.00" y="348.10" transform="rotate(-90 438.00 348.10)" text-anchor="end" style="font-family:'Liberation Sans',sans-serif;font-size:5.8px" fill="#3a3a3a">-0.01</text>
<text x="446.70" y="348.10" transform="rotate(-90 446.70 348.10)" text-anchor="end" style="font-family:'Liberation Sans',sans-serif;font-size:5.8px" fill="#3a3a3a">-0.05</text>
<text x="455.40" y="348.10" transform="rotate(-90 455.40 348.10)" text-anchor="end" style="font-family:'Liberation Sans',sans-serif;font-size:5.8px" fill="#3a3a3a">-0.1</text>
<text x="464.10" y="348.10" transform="rotate(-90 464.10 348.10)" text-anchor="end" style="font-family:'Liberation Sans',sans-serif;font-size:5.8px" fill="#3a3a3a">1</text>
<text x="472.80" y="348.10" transform="rotate(-90 472.80 348.10)" text-anchor="end" style="font-family:'Liberation Sans',sans-serif;font-size:5.8px" fill="#3a3a3a">0.1</text>
<text x="481.50" y="348.10" transform="rotate(-90 481.50 348.10)" text-anchor="end" style="font-family:'Liberation Sans',sans-serif;font-size:5.8px" fill="#3a3a3a">0.05</text>
<text x="490.20" y="348.10" transform="rotate(-90 490.20 348.10)" text-anchor="end" style="font-family:'Liberation Sans',sans-serif;font-size:5.8px" fill="#3a3a3a">0.01</text>
<text x="498.90" y="348.10" transform="rotate(-90 498.90 348.10)" text-anchor="end" style="font-family:'Liberation Sans',sans-serif;font-size:5.8px" fill="#3a3a3a">0.005</text>
<text x="507.60" y="348.10" transform="rotate(-90 507.60 348.10)" text-anchor="end" style="font-family:'Liberation Sans',sans-serif;font-size:5.8px" fill="#3a3a3a">0.001</text>
<line x1="49" y1="447.9" x2="513.3" y2="447.9" stroke="#111" stroke-width="1" stroke-dasharray="1.9 1.18"/>
<g stroke="#d9545f" stroke-width="0.85" fill="none"><line x1="62.80" y1="347.3" x2="62.80" y2="385.5"/><line x1="59.20" y1="347.3" x2="66.40" y2="347.3"/><line x1="59.20" y1="385.5" x2="66.40" y2="385.5"/></g>
<circle cx="62.80" cy="366.3" r="2.05" fill="none" stroke="#344040" stroke-width="0.9"/>
<g stroke="#d9545f" stroke-width="0.85" fill="none"><line x1="71.49" y1="352.5" x2="71.49" y2="394.5"/><line x1="67.89" y1="352.5" x2="75.09" y2="352.5"/><line x1="67.89" y1="394.5" x2="75.09" y2="394.5"/></g>
<circle cx="71.49" cy="373.6" r="2.05" fill="none" stroke="#344040" stroke-width="0.9"/>
<g stroke="#d9545f" stroke-width="0.85" fill="none"><line x1="80.18" y1="358.2" x2="80.18" y2="390.5"/><line x1="76.58" y1="358.2" x2="83.78" y2="358.2"/><line x1="76.58" y1="390.5" x2="83.78" y2="390.5"/></g>
<circle cx="80.18" cy="374.4" r="2.05" fill="none" stroke="#344040" stroke-width="0.9"/>
<g stroke="#d9545f" stroke-width="0.85" fill="none"><line x1="88.87" y1="359.0" x2="88.87" y2="395.4"/><line x1="85.27" y1="359.0" x2="92.47" y2="359.0"/><line x1="85.27" y1="395.4" x2="92.47" y2="395.4"/></g>
<circle cx="88.87" cy="377.0" r="2.05" fill="none" stroke="#344040" stroke-width="0.9"/>
<g stroke="#d9545f" stroke-width="0.85" fill="none"><line x1="97.56" y1="358.0" x2="97.56" y2="400.6"/><line x1="93.96" y1="358.0" x2="101.16" y2="358.0"/><line x1="93.96" y1="400.6" x2="101.16" y2="400.6"/></g>
<circle cx="97.56" cy="379.5" r="2.05" fill="none" stroke="#344040" stroke-width="0.9"/>
<g stroke="#d9545f" stroke-width="0.85" fill="none"><line x1="106.25" y1="363.9" x2="106.25" y2="396.4"/><line x1="102.65" y1="363.9" x2="109.85" y2="363.9"/><line x1="102.65" y1="396.4" x2="109.85" y2="396.4"/></g>
<circle cx="106.25" cy="380.2" r="2.05" fill="none" stroke="#344040" stroke-width="0.9"/>
<g stroke="#d9545f" stroke-width="0.85" fill="none"><line x1="114.94" y1="353.8" x2="114.94" y2="407.8"/><line x1="111.34" y1="353.8" x2="118.54" y2="353.8"/><line x1="111.34" y1="407.8" x2="118.54" y2="407.8"/></g>
<circle cx="114.94" cy="381.0" r="2.05" fill="none" stroke="#344040" stroke-width="0.9"/>
<g stroke="#d9545f" stroke-width="0.85" fill="none"><line x1="123.63" y1="368.4" x2="123.63" y2="400.2"/><line x1="120.03" y1="368.4" x2="127.23" y2="368.4"/><line x1="120.03" y1="400.2" x2="127.23" y2="400.2"/></g>
<circle cx="123.63" cy="384.3" r="2.05" fill="none" stroke="#344040" stroke-width="0.9"/>
<g stroke="#d9545f" stroke-width="0.85" fill="none"><line x1="132.32" y1="362.7" x2="132.32" y2="405.9"/><line x1="128.72" y1="362.7" x2="135.92" y2="362.7"/><line x1="128.72" y1="405.9" x2="135.92" y2="405.9"/></g>
<circle cx="132.32" cy="384.3" r="2.05" fill="none" stroke="#344040" stroke-width="0.9"/>
<g stroke="#d9545f" stroke-width="0.85" fill="none"><line x1="141.01" y1="368.3" x2="141.01" y2="400.7"/><line x1="137.41" y1="368.3" x2="144.61" y2="368.3"/><line x1="137.41" y1="400.7" x2="144.61" y2="400.7"/></g>
<circle cx="141.01" cy="384.6" r="2.05" fill="none" stroke="#344040" stroke-width="0.9"/>
<g stroke="#d9545f" stroke-width="0.85" fill="none"><line x1="149.70" y1="374.6" x2="149.70" y2="399.3"/><line x1="146.10" y1="374.6" x2="153.30" y2="374.6"/><line x1="146.10" y1="399.3" x2="153.30" y2="399.3"/></g>
<circle cx="149.70" cy="386.9" r="2.05" fill="none" stroke="#344040" stroke-width="0.9"/>
<g stroke="#d9545f" stroke-width="0.85" fill="none"><line x1="158.39" y1="377.3" x2="158.39" y2="397.6"/><line x1="154.79" y1="377.3" x2="161.99" y2="377.3"/><line x1="154.79" y1="397.6" x2="161.99" y2="397.6"/></g>
<circle cx="158.39" cy="387.4" r="2.05" fill="none" stroke="#344040" stroke-width="0.9"/>
<g stroke="#d9545f" stroke-width="0.85" fill="none"><line x1="167.08" y1="372.5" x2="167.08" y2="404.3"/><line x1="163.48" y1="372.5" x2="170.68" y2="372.5"/><line x1="163.48" y1="404.3" x2="170.68" y2="404.3"/></g>
<circle cx="167.08" cy="388.1" r="2.05" fill="none" stroke="#344040" stroke-width="0.9"/>
<g stroke="#d9545f" stroke-width="0.85" fill="none"><line x1="175.77" y1="371.8" x2="175.77" y2="405.4"/><line x1="172.17" y1="371.8" x2="179.37" y2="371.8"/><line x1="172.17" y1="405.4" x2="179.37" y2="405.4"/></g>
<circle cx="175.77" cy="388.6" r="2.05" fill="none" stroke="#344040" stroke-width="0.9"/>
<g stroke="#d9545f" stroke-width="0.85" fill="none"><line x1="184.46" y1="373.7" x2="184.46" y2="403.7"/><line x1="180.86" y1="373.7" x2="188.06" y2="373.7"/><line x1="180.86" y1="403.7" x2="188.06" y2="403.7"/></g>
<circle cx="184.46" cy="388.8" r="2.05" fill="none" stroke="#344040" stroke-width="0.9"/>
<g stroke="#d9545f" stroke-width="0.85" fill="none"><line x1="193.15" y1="367.8" x2="193.15" y2="410.4"/><line x1="189.55" y1="367.8" x2="196.75" y2="367.8"/><line x1="189.55" y1="410.4" x2="196.75" y2="410.4"/></g>
<circle cx="193.15" cy="389.1" r="2.05" fill="none" stroke="#344040" stroke-width="0.9"/>
<g stroke="#d9545f" stroke-width="0.85" fill="none"><line x1="201.84" y1="375.6" x2="201.84" y2="408.5"/><line x1="198.24" y1="375.6" x2="205.44" y2="375.6"/><line x1="198.24" y1="408.5" x2="205.44" y2="408.5"/></g>
<circle cx="201.84" cy="392.1" r="2.05" fill="none" stroke="#344040" stroke-width="0.9"/>
<g stroke="#d9545f" stroke-width="0.85" fill="none"><line x1="210.53" y1="372.8" x2="210.53" y2="415.4"/><line x1="206.93" y1="372.8" x2="214.13" y2="372.8"/><line x1="206.93" y1="415.4" x2="214.13" y2="415.4"/></g>
<circle cx="210.53" cy="394.5" r="2.05" fill="none" stroke="#344040" stroke-width="0.9"/>
<g stroke="#d9545f" stroke-width="0.85" fill="none"><line x1="219.22" y1="372.6" x2="219.22" y2="418.7"/><line x1="215.62" y1="372.6" x2="222.82" y2="372.6"/><line x1="215.62" y1="418.7" x2="222.82" y2="418.7"/></g>
<circle cx="219.22" cy="395.8" r="2.05" fill="none" stroke="#344040" stroke-width="0.9"/>
<g stroke="#d9545f" stroke-width="0.85" fill="none"><line x1="227.91" y1="380.6" x2="227.91" y2="411.6"/><line x1="224.31" y1="380.6" x2="231.51" y2="380.6"/><line x1="224.31" y1="411.6" x2="231.51" y2="411.6"/></g>
<circle cx="227.91" cy="396.3" r="2.05" fill="none" stroke="#344040" stroke-width="0.9"/>
<g stroke="#d9545f" stroke-width="0.85" fill="none"><line x1="236.60" y1="373.8" x2="236.60" y2="420.9"/><line x1="233.00" y1="373.8" x2="240.20" y2="373.8"/><line x1="233.00" y1="420.9" x2="240.20" y2="420.9"/></g>
<circle cx="236.60" cy="397.2" r="2.05" fill="none" stroke="#344040" stroke-width="0.9"/>
<g stroke="#d9545f" stroke-width="0.85" fill="none"><line x1="245.29" y1="388.4" x2="245.29" y2="417.3"/><line x1="241.69" y1="388.4" x2="248.89" y2="388.4"/><line x1="241.69" y1="417.3" x2="248.89" y2="417.3"/></g>
<circle cx="245.29" cy="402.9" r="2.05" fill="none" stroke="#344040" stroke-width="0.9"/>
<g stroke="#d9545f" stroke-width="0.85" fill="none"><line x1="253.98" y1="386.7" x2="253.98" y2="420.4"/><line x1="250.38" y1="386.7" x2="257.58" y2="386.7"/><line x1="250.38" y1="420.4" x2="257.58" y2="420.4"/></g>
<circle cx="253.98" cy="403.6" r="2.05" fill="none" stroke="#344040" stroke-width="0.9"/>
<g stroke="#d9545f" stroke-width="0.85" fill="none"><line x1="262.67" y1="390.5" x2="262.67" y2="418.0"/><line x1="259.07" y1="390.5" x2="266.27" y2="390.5"/><line x1="259.07" y1="418.0" x2="266.27" y2="418.0"/></g>
<circle cx="262.67" cy="404.3" r="2.05" fill="none" stroke="#344040" stroke-width="0.9"/>
<g stroke="#d9545f" stroke-width="0.85" fill="none"><line x1="271.36" y1="386.0" x2="271.36" y2="424.4"/><line x1="267.76" y1="386.0" x2="274.96" y2="386.0"/><line x1="267.76" y1="424.4" x2="274.96" y2="424.4"/></g>
<circle cx="271.36" cy="405.3" r="2.05" fill="none" stroke="#344040" stroke-width="0.9"/>
<g stroke="#d9545f" stroke-width="0.85" fill="none"><line x1="280.05" y1="390.5" x2="280.05" y2="422.7"/><line x1="276.45" y1="390.5" x2="283.65" y2="390.5"/><line x1="276.45" y1="422.7" x2="283.65" y2="422.7"/></g>
<circle cx="280.05" cy="406.7" r="2.05" fill="none" stroke="#344040" stroke-width="0.9"/>
<g stroke="#d9545f" stroke-width="0.85" fill="none"><line x1="288.74" y1="392.4" x2="288.74" y2="421.4"/><line x1="285.14" y1="392.4" x2="292.34" y2="392.4"/><line x1="285.14" y1="421.4" x2="292.34" y2="421.4"/></g>
<circle cx="288.74" cy="406.9" r="2.05" fill="none" stroke="#344040" stroke-width="0.9"/>
<g stroke="#b8464f" stroke-width="0.85" fill="none"><line x1="297.43" y1="387.3" x2="297.43" y2="436.3"/><line x1="293.83" y1="387.3" x2="301.03" y2="387.3"/><line x1="293.83" y1="436.3" x2="301.03" y2="436.3"/></g>
<circle cx="297.43" cy="411.9" r="2.05" fill="none" stroke="#344040" stroke-width="0.9"/>
<g stroke="#8a6060" stroke-width="0.85" fill="none"><line x1="306.12" y1="391.5" x2="306.12" y2="439.9"/><line x1="302.52" y1="391.5" x2="309.72" y2="391.5"/><line x1="302.52" y1="439.9" x2="309.72" y2="439.9"/></g>
<circle cx="306.12" cy="415.5" r="2.05" fill="none" stroke="#344040" stroke-width="0.9"/>
<g stroke="#d9545f" stroke-width="0.85" fill="none"><line x1="314.81" y1="397.7" x2="314.81" y2="434.0"/><line x1="311.21" y1="397.7" x2="318.41" y2="397.7"/><line x1="311.21" y1="434.0" x2="318.41" y2="434.0"/></g>
<circle cx="314.81" cy="415.9" r="2.05" fill="none" stroke="#344040" stroke-width="0.9"/>
<g stroke="#d9545f" stroke-width="0.85" fill="none"><line x1="323.50" y1="401.8" x2="323.50" y2="431.3"/><line x1="319.90" y1="401.8" x2="327.10" y2="401.8"/><line x1="319.90" y1="431.3" x2="327.10" y2="431.3"/></g>
<circle cx="323.50" cy="416.6" r="2.05" fill="none" stroke="#344040" stroke-width="0.9"/>
<g stroke="#b8464f" stroke-width="0.85" fill="none"><line x1="332.19" y1="396.7" x2="332.19" y2="437.3"/><line x1="328.59" y1="396.7" x2="335.79" y2="396.7"/><line x1="328.59" y1="437.3" x2="335.79" y2="437.3"/></g>
<circle cx="332.19" cy="416.7" r="2.05" fill="none" stroke="#344040" stroke-width="0.9"/>
<g stroke="#d9545f" stroke-width="0.85" fill="none"><line x1="340.88" y1="401.2" x2="340.88" y2="433.5"/><line x1="337.28" y1="401.2" x2="344.48" y2="401.2"/><line x1="337.28" y1="433.5" x2="344.48" y2="433.5"/></g>
<circle cx="340.88" cy="417.2" r="2.05" fill="none" stroke="#344040" stroke-width="0.9"/>
<g stroke="#d9545f" stroke-width="0.85" fill="none"><line x1="349.57" y1="401.2" x2="349.57" y2="435.1"/><line x1="345.97" y1="401.2" x2="353.17" y2="401.2"/><line x1="345.97" y1="435.1" x2="353.17" y2="435.1"/></g>
<circle cx="349.57" cy="417.9" r="2.05" fill="none" stroke="#344040" stroke-width="0.9"/>
<g stroke="#8a6060" stroke-width="0.85" fill="none"><line x1="358.26" y1="390.9" x2="358.26" y2="445.6"/><line x1="354.66" y1="390.9" x2="361.86" y2="390.9"/><line x1="354.66" y1="445.6" x2="361.86" y2="445.6"/></g>
<circle cx="358.26" cy="418.3" r="2.05" fill="none" stroke="#344040" stroke-width="0.9"/>
<g stroke="#d9545f" stroke-width="0.85" fill="none"><line x1="366.95" y1="407.6" x2="366.95" y2="431.1"/><line x1="363.35" y1="407.6" x2="370.55" y2="407.6"/><line x1="363.35" y1="431.1" x2="370.55" y2="431.1"/></g>
<circle cx="366.95" cy="419.5" r="2.05" fill="none" stroke="#344040" stroke-width="0.9"/>
<g stroke="#d9545f" stroke-width="0.85" fill="none"><line x1="375.64" y1="405.5" x2="375.64" y2="435.0"/><line x1="372.04" y1="405.5" x2="379.24" y2="405.5"/><line x1="372.04" y1="435.0" x2="379.24" y2="435.0"/></g>
<circle cx="375.64" cy="420.2" r="2.05" fill="none" stroke="#344040" stroke-width="0.9"/>
<g stroke="#d9545f" stroke-width="0.85" fill="none"><line x1="384.33" y1="404.8" x2="384.33" y2="436.3"/><line x1="380.73" y1="404.8" x2="387.93" y2="404.8"/><line x1="380.73" y1="436.3" x2="387.93" y2="436.3"/></g>
<circle cx="384.33" cy="420.7" r="2.05" fill="none" stroke="#344040" stroke-width="0.9"/>
<g stroke="#d9545f" stroke-width="0.85" fill="none"><line x1="393.02" y1="405.6" x2="393.02" y2="436.6"/><line x1="389.42" y1="405.6" x2="396.62" y2="405.6"/><line x1="389.42" y1="436.6" x2="396.62" y2="436.6"/></g>
<circle cx="393.02" cy="421.2" r="2.05" fill="none" stroke="#344040" stroke-width="0.9"/>
<g stroke="#604848" stroke-width="0.85" fill="none"><line x1="401.71" y1="395.8" x2="401.71" y2="449.1"/><line x1="398.11" y1="395.8" x2="405.31" y2="395.8"/><line x1="398.11" y1="449.1" x2="405.31" y2="449.1"/></g>
<circle cx="401.71" cy="422.2" r="2.05" fill="none" stroke="#344040" stroke-width="0.9"/>
<g stroke="#d9545f" stroke-width="0.85" fill="none"><line x1="410.40" y1="409.1" x2="410.40" y2="437.7"/><line x1="406.80" y1="409.1" x2="414.00" y2="409.1"/><line x1="406.80" y1="437.7" x2="414.00" y2="437.7"/></g>
<circle cx="410.40" cy="423.5" r="2.05" fill="none" stroke="#344040" stroke-width="0.9"/>
<g stroke="#8c7c7c" stroke-width="0.85" fill="none"><line x1="419.09" y1="401.8" x2="419.09" y2="447.3"/><line x1="415.49" y1="401.8" x2="422.69" y2="401.8"/><line x1="415.49" y1="447.3" x2="422.69" y2="447.3"/></g>
<circle cx="419.09" cy="424.5" r="2.05" fill="none" stroke="#344040" stroke-width="0.9"/>
<g stroke="#484848" stroke-width="0.85" fill="none"><line x1="427.78" y1="399.4" x2="427.78" y2="457.3"/><line x1="424.18" y1="399.4" x2="431.38" y2="399.4"/><line x1="424.18" y1="457.3" x2="431.38" y2="457.3"/></g>
<circle cx="427.78" cy="428.3" r="2.05" fill="none" stroke="#344040" stroke-width="0.9"/>
<g stroke="#484848" stroke-width="0.85" fill="none"><line x1="436.47" y1="414.5" x2="436.47" y2="448.2"/><line x1="432.87" y1="414.5" x2="440.07" y2="414.5"/><line x1="432.87" y1="448.2" x2="440.07" y2="448.2"/></g>
<circle cx="436.47" cy="431.5" r="2.05" fill="none" stroke="#344040" stroke-width="0.9"/>
<g stroke="#484848" stroke-width="0.85" fill="none"><line x1="445.16" y1="420.4" x2="445.16" y2="455.2"/><line x1="441.56" y1="420.4" x2="448.76" y2="420.4"/><line x1="441.56" y1="455.2" x2="448.76" y2="455.2"/></g>
<circle cx="445.16" cy="437.8" r="2.05" fill="none" stroke="#344040" stroke-width="0.9"/>
<g stroke="#484848" stroke-width="0.85" fill="none"><line x1="453.85" y1="422.2" x2="453.85" y2="457.2"/><line x1="450.25" y1="422.2" x2="457.45" y2="422.2"/><line x1="450.25" y1="457.2" x2="457.45" y2="457.2"/></g>
<circle cx="453.85" cy="439.8" r="2.05" fill="none" stroke="#344040" stroke-width="0.9"/>
<g stroke="#484848" stroke-width="0.85" fill="none"><line x1="462.54" y1="430.8" x2="462.54" y2="461.5"/><line x1="458.94" y1="430.8" x2="466.14" y2="430.8"/><line x1="458.94" y1="461.5" x2="466.14" y2="461.5"/></g>
<circle cx="462.54" cy="446.3" r="2.05" fill="none" stroke="#344040" stroke-width="0.9"/>
<g stroke="#484848" stroke-width="0.85" fill="none"><line x1="471.23" y1="441.0" x2="471.23" y2="467.1"/><line x1="467.63" y1="441.0" x2="474.83" y2="441.0"/><line x1="467.63" y1="467.1" x2="474.83" y2="467.1"/></g>
<circle cx="471.23" cy="454.1" r="2.05" fill="none" stroke="#344040" stroke-width="0.9"/>
<g stroke="#88c070" stroke-width="0.85" fill="none"><line x1="479.92" y1="454.5" x2="479.92" y2="488.8"/><line x1="476.32" y1="454.5" x2="483.52" y2="454.5"/><line x1="476.32" y1="488.8" x2="483.52" y2="488.8"/></g>
<circle cx="479.92" cy="471.6" r="2.05" fill="none" stroke="#344040" stroke-width="0.9"/>
<g stroke="#587a52" stroke-width="0.85" fill="none"><line x1="488.61" y1="453.0" x2="488.61" y2="490.5"/><line x1="485.01" y1="453.0" x2="492.21" y2="453.0"/><line x1="485.01" y1="490.5" x2="492.21" y2="490.5"/></g>
<circle cx="488.61" cy="471.6" r="2.05" fill="none" stroke="#344040" stroke-width="0.9"/>
<g stroke="#88c070" stroke-width="0.85" fill="none"><line x1="497.30" y1="468.7" x2="497.30" y2="518.2"/><line x1="493.70" y1="468.7" x2="500.90" y2="468.7"/><line x1="493.70" y1="518.2" x2="500.90" y2="518.2"/></g>
<circle cx="497.30" cy="493.4" r="2.05" fill="none" stroke="#344040" stroke-width="0.9"/>
<path d="M49 339.5H513.3V524.8H49Z" fill="none" stroke="#2a2a2a" stroke-width="1.3"/>
<line x1="45.8" y1="371.90" x2="49" y2="371.90" stroke="#2a2a2a" stroke-width="1"/>
<text transform="translate(43.2 374.20) scale(0.885 1)" text-anchor="end" style="font-family:'Liberation Sans',sans-serif;font-size:7px" fill="#1a1a1a" stroke="#1a1a1a" stroke-width="0.15">1.0</text>
<line x1="45.8" y1="409.90" x2="49" y2="409.90" stroke="#2a2a2a" stroke-width="1"/>
<text transform="translate(43.2 412.20) scale(0.885 1)" text-anchor="end" style="font-family:'Liberation Sans',sans-serif;font-size:7px" fill="#1a1a1a" stroke="#1a1a1a" stroke-width="0.15">0.5</text>
<line x1="45.8" y1="447.90" x2="49" y2="447.90" stroke="#2a2a2a" stroke-width="1"/>
<text transform="translate(43.2 450.20) scale(0.885 1)" text-anchor="end" style="font-family:'Liberation Sans',sans-serif;font-size:7px" fill="#1a1a1a" stroke="#1a1a1a" stroke-width="0.15">0.0</text>
<line x1="45.8" y1="485.90" x2="49" y2="485.90" stroke="#2a2a2a" stroke-width="1"/>
<text transform="translate(43.2 488.20) scale(0.885 1)" text-anchor="end" style="font-family:'Liberation Sans',sans-serif;font-size:7px" fill="#1a1a1a" stroke="#1a1a1a" stroke-width="0.15">−0.5</text>
<line x1="45.8" y1="523.90" x2="49" y2="523.90" stroke="#2a2a2a" stroke-width="1"/>
<text transform="translate(43.2 526.20) scale(0.885 1)" text-anchor="end" style="font-family:'Liberation Sans',sans-serif;font-size:7px" fill="#1a1a1a" stroke="#1a1a1a" stroke-width="0.15">−1.0</text>
<text transform="translate(24.6 432.5) rotate(-90) scale(0.8 1)" text-anchor="middle" style="font-family:'Liberation Sans',sans-serif;font-size:7.3px" fill="#111" stroke="#111" stroke-width="0.2">Pathway activity</text>
<line x1="62.80" y1="524.8" x2="62.80" y2="527.6999999999999" stroke="#2a2a2a" stroke-width="1"/>
<text x="65.80" y="534.30" transform="rotate(-45 65.80 534.30)" text-anchor="end" style="font-family:'Liberation Sans',sans-serif;font-size:5.9px" fill="#111" stroke="#111" stroke-width="0.08">Regulation_of_Tcell_activation</text>
<line x1="71.49" y1="524.8" x2="71.49" y2="527.6999999999999" stroke="#2a2a2a" stroke-width="1"/>
<text x="74.49" y="534.30" transform="rotate(-45 74.49 534.30)" text-anchor="end" style="font-family:'Liberation Sans',sans-serif;font-size:5.9px" fill="#111" stroke="#111" stroke-width="0.08">Coinhibitory</text>
<line x1="80.18" y1="524.8" x2="80.18" y2="527.6999999999999" stroke="#2a2a2a" stroke-width="1"/>
<text x="83.18" y="534.30" transform="rotate(-45 83.18 534.30)" text-anchor="end" style="font-family:'Liberation Sans',sans-serif;font-size:5.9px" fill="#111" stroke="#111" stroke-width="0.08">IFN_induced genes</text>
<line x1="88.87" y1="524.8" x2="88.87" y2="527.6999999999999" stroke="#2a2a2a" stroke-width="1"/>
<text x="91.87" y="534.30" transform="rotate(-45 91.87 534.30)" text-anchor="end" style="font-family:'Liberation Sans',sans-serif;font-size:5.9px" fill="#111" stroke="#111" stroke-width="0.08">NLR_inflammasome</text>
<line x1="97.56" y1="524.8" x2="97.56" y2="527.6999999999999" stroke="#2a2a2a" stroke-width="1"/>
<text x="100.56" y="534.30" transform="rotate(-45 100.56 534.30)" text-anchor="end" style="font-family:'Liberation Sans',sans-serif;font-size:5.9px" fill="#111" stroke="#111" stroke-width="0.08">Th1_profile</text>
<line x1="106.25" y1="524.8" x2="106.25" y2="527.6999999999999" stroke="#2a2a2a" stroke-width="1"/>
<text x="109.25" y="534.30" transform="rotate(-45 109.25 534.30)" text-anchor="end" style="font-family:'Liberation Sans',sans-serif;font-size:5.9px" fill="#111" stroke="#111" stroke-width="0.08">Proapoptotic</text>
<line x1="114.94" y1="524.8" x2="114.94" y2="527.6999999999999" stroke="#2a2a2a" stroke-width="1"/>
<text x="117.94" y="534.30" transform="rotate(-45 117.94 534.30)" text-anchor="end" style="font-family:'Liberation Sans',sans-serif;font-size:5.9px" fill="#111" stroke="#111" stroke-width="0.08">CTL_Cytotoxicity</text>
<line x1="123.63" y1="524.8" x2="123.63" y2="527.6999999999999" stroke="#2a2a2a" stroke-width="1"/>
<text x="126.63" y="534.30" transform="rotate(-45 126.63 534.30)" text-anchor="end" style="font-family:'Liberation Sans',sans-serif;font-size:5.9px" fill="#111" stroke="#111" stroke-width="0.08">Ag_Presentation_MHC_Interaction</text>
<line x1="132.32" y1="524.8" x2="132.32" y2="527.6999999999999" stroke="#2a2a2a" stroke-width="1"/>
<text x="135.32" y="534.30" transform="rotate(-45 135.32 534.30)" text-anchor="end" style="font-family:'Liberation Sans',sans-serif;font-size:5.9px" fill="#111" stroke="#111" stroke-width="0.08">Memory</text>
<line x1="141.01" y1="524.8" x2="141.01" y2="527.6999999999999" stroke="#2a2a2a" stroke-width="1"/>
<text x="144.01" y="534.30" transform="rotate(-45 144.01 534.30)" text-anchor="end" style="font-family:'Liberation Sans',sans-serif;font-size:5.9px" fill="#111" stroke="#111" stroke-width="0.08">Autophagy</text>
<line x1="149.70" y1="524.8" x2="149.70" y2="527.6999999999999" stroke="#2a2a2a" stroke-width="1"/>
<text x="152.70" y="534.30" transform="rotate(-45 152.70 534.30)" text-anchor="end" style="font-family:'Liberation Sans',sans-serif;font-size:5.9px" fill="#111" stroke="#111" stroke-width="0.08">Energy_Metabolism</text>
<line x1="158.39" y1="524.8" x2="158.39" y2="527.6999999999999" stroke="#2a2a2a" stroke-width="1"/>
<text x="161.39" y="534.30" transform="rotate(-45 161.39 534.30)" text-anchor="end" style="font-family:'Liberation Sans',sans-serif;font-size:5.9px" fill="#111" stroke="#111" stroke-width="0.08">Ubiquitin_Proteasome</text>
<line x1="167.08" y1="524.8" x2="167.08" y2="527.6999999999999" stroke="#2a2a2a" stroke-width="1"/>
<text x="170.08" y="534.30" transform="rotate(-45 170.08 534.30)" text-anchor="end" style="font-family:'Liberation Sans',sans-serif;font-size:5.9px" fill="#111" stroke="#111" stroke-width="0.08">JAK_STAT</text>
<line x1="175.77" y1="524.8" x2="175.77" y2="527.6999999999999" stroke="#2a2a2a" stroke-width="1"/>
<text x="178.77" y="534.30" transform="rotate(-45 178.77 534.30)" text-anchor="end" style="font-family:'Liberation Sans',sans-serif;font-size:5.9px" fill="#111" stroke="#111" stroke-width="0.08">Exhaustion_up</text>
<line x1="184.46" y1="524.8" x2="184.46" y2="527.6999999999999" stroke="#2a2a2a" stroke-width="1"/>
<text x="187.46" y="534.30" transform="rotate(-45 187.46 534.30)" text-anchor="end" style="font-family:'Liberation Sans',sans-serif;font-size:5.9px" fill="#111" stroke="#111" stroke-width="0.08">Type1_IFN_signaling</text>
<line x1="193.15" y1="524.8" x2="193.15" y2="527.6999999999999" stroke="#2a2a2a" stroke-width="1"/>
<text x="196.15" y="534.30" transform="rotate(-45 196.15 534.30)" text-anchor="end" style="font-family:'Liberation Sans',sans-serif;font-size:5.9px" fill="#111" stroke="#111" stroke-width="0.08">MAPK</text>
<line x1="201.84" y1="524.8" x2="201.84" y2="527.6999999999999" stroke="#2a2a2a" stroke-width="1"/>
<text x="204.84" y="534.30" transform="rotate(-45 204.84 534.30)" text-anchor="end" style="font-family:'Liberation Sans',sans-serif;font-size:5.9px" fill="#111" stroke="#111" stroke-width="0.08">NFKB_Positive_regulators</text>
<line x1="210.53" y1="524.8" x2="210.53" y2="527.6999999999999" stroke="#2a2a2a" stroke-width="1"/>
<text x="213.53" y="534.30" transform="rotate(-45 213.53 534.30)" text-anchor="end" style="font-family:'Liberation Sans',sans-serif;font-size:5.9px" fill="#111" stroke="#111" stroke-width="0.08">NFAT_pathway_Biocarta</text>
<line x1="219.22" y1="524.8" x2="219.22" y2="527.6999999999999" stroke="#2a2a2a" stroke-width="1"/>
<text x="222.22" y="534.30" transform="rotate(-45 222.22 534.30)" text-anchor="end" style="font-family:'Liberation Sans',sans-serif;font-size:5.9px" fill="#111" stroke="#111" stroke-width="0.08">NFAT_TFs</text>
<line x1="227.91" y1="524.8" x2="227.91" y2="527.6999999999999" stroke="#2a2a2a" stroke-width="1"/>
<text x="230.91" y="534.30" transform="rotate(-45 230.91 534.30)" text-anchor="end" style="font-family:'Liberation Sans',sans-serif;font-size:5.9px" fill="#111" stroke="#111" stroke-width="0.08">Tcell_activation</text>
<line x1="236.60" y1="524.8" x2="236.60" y2="527.6999999999999" stroke="#2a2a2a" stroke-width="1"/>
<text x="239.60" y="534.30" transform="rotate(-45 239.60 534.30)" text-anchor="end" style="font-family:'Liberation Sans',sans-serif;font-size:5.9px" fill="#111" stroke="#111" stroke-width="0.08">TNF_signaling</text>
<line x1="245.29" y1="524.8" x2="245.29" y2="527.6999999999999" stroke="#2a2a2a" stroke-width="1"/>
<text x="248.29" y="534.30" transform="rotate(-45 248.29 534.30)" text-anchor="end" style="font-family:'Liberation Sans',sans-serif;font-size:5.9px" fill="#111" stroke="#111" stroke-width="0.08">Cell_cycle_and_its_regulation</text>
<line x1="253.98" y1="524.8" x2="253.98" y2="527.6999999999999" stroke="#2a2a2a" stroke-width="1"/>
<text x="256.98" y="534.30" transform="rotate(-45 256.98 534.30)" text-anchor="end" style="font-family:'Liberation Sans',sans-serif;font-size:5.9px" fill="#111" stroke="#111" stroke-width="0.08">Adhesion</text>
<line x1="262.67" y1="524.8" x2="262.67" y2="527.6999999999999" stroke="#2a2a2a" stroke-width="1"/>
<text x="265.67" y="534.30" transform="rotate(-45 265.67 534.30)" text-anchor="end" style="font-family:'Liberation Sans',sans-serif;font-size:5.9px" fill="#111" stroke="#111" stroke-width="0.08">TLR_signaling</text>
<line x1="271.36" y1="524.8" x2="271.36" y2="527.6999999999999" stroke="#2a2a2a" stroke-width="1"/>
<text x="274.36" y="534.30" transform="rotate(-45 274.36 534.30)" text-anchor="end" style="font-family:'Liberation Sans',sans-serif;font-size:5.9px" fill="#111" stroke="#111" stroke-width="0.08">Proinflammatory</text>
<line x1="280.05" y1="524.8" x2="280.05" y2="527.6999999999999" stroke="#2a2a2a" stroke-width="1"/>
<text x="283.05" y="534.30" transform="rotate(-45 283.05 534.30)" text-anchor="end" style="font-family:'Liberation Sans',sans-serif;font-size:5.9px" fill="#111" stroke="#111" stroke-width="0.08">IL1_IL18_IL33_signaling</text>
<line x1="288.74" y1="524.8" x2="288.74" y2="527.6999999999999" stroke="#2a2a2a" stroke-width="1"/>
<text x="291.74" y="534.30" transform="rotate(-45 291.74 534.30)" text-anchor="end" style="font-family:'Liberation Sans',sans-serif;font-size:5.9px" fill="#111" stroke="#111" stroke-width="0.08">TCR_signaling</text>
<line x1="297.43" y1="524.8" x2="297.43" y2="527.6999999999999" stroke="#2a2a2a" stroke-width="1"/>
<text x="300.43" y="534.30" transform="rotate(-45 300.43 534.30)" text-anchor="end" style="font-family:'Liberation Sans',sans-serif;font-size:5.9px" fill="#111" stroke="#111" stroke-width="0.08">NFKB_Target_genes</text>
<line x1="306.12" y1="524.8" x2="306.12" y2="527.6999999999999" stroke="#2a2a2a" stroke-width="1"/>
<text x="309.12" y="534.30" transform="rotate(-45 309.12 534.30)" text-anchor="end" style="font-family:'Liberation Sans',sans-serif;font-size:5.9px" fill="#111" stroke="#111" stroke-width="0.08">JAK_STAT_Regulation</text>
<line x1="314.81" y1="524.8" x2="314.81" y2="527.6999999999999" stroke="#2a2a2a" stroke-width="1"/>
<text x="317.81" y="534.30" transform="rotate(-45 317.81 534.30)" text-anchor="end" style="font-family:'Liberation Sans',sans-serif;font-size:5.9px" fill="#111" stroke="#111" stroke-width="0.08">TGFb_signaling</text>
<line x1="323.50" y1="524.8" x2="323.50" y2="527.6999999999999" stroke="#2a2a2a" stroke-width="1"/>
<text x="326.50" y="534.30" transform="rotate(-45 326.50 534.30)" text-anchor="end" style="font-family:'Liberation Sans',sans-serif;font-size:5.9px" fill="#111" stroke="#111" stroke-width="0.08">Th2_profile</text>
<line x1="332.19" y1="524.8" x2="332.19" y2="527.6999999999999" stroke="#2a2a2a" stroke-width="1"/>
<text x="335.19" y="534.30" transform="rotate(-45 335.19 534.30)" text-anchor="end" style="font-family:'Liberation Sans',sans-serif;font-size:5.9px" fill="#111" stroke="#111" stroke-width="0.08">IL2_signaling</text>
<line x1="340.88" y1="524.8" x2="340.88" y2="527.6999999999999" stroke="#2a2a2a" stroke-width="1"/>
<text x="343.88" y="534.30" transform="rotate(-45 343.88 534.30)" text-anchor="end" style="font-family:'Liberation Sans',sans-serif;font-size:5.9px" fill="#111" stroke="#111" stroke-width="0.08">Treg_profile</text>
<line x1="349.57" y1="524.8" x2="349.57" y2="527.6999999999999" stroke="#2a2a2a" stroke-width="1"/>
<text x="352.57" y="534.30" transform="rotate(-45 352.57 534.30)" text-anchor="end" style="font-family:'Liberation Sans',sans-serif;font-size:5.9px" fill="#111" stroke="#111" stroke-width="0.08">NOTCH_signaling</text>
<line x1="358.26" y1="524.8" x2="358.26" y2="527.6999999999999" stroke="#2a2a2a" stroke-width="1"/>
<text x="361.26" y="534.30" transform="rotate(-45 361.26 534.30)" text-anchor="end" style="font-family:'Liberation Sans',sans-serif;font-size:5.9px" fill="#111" stroke="#111" stroke-width="0.08">Complement</text>
<line x1="366.95" y1="524.8" x2="366.95" y2="527.6999999999999" stroke="#2a2a2a" stroke-width="1"/>
<text x="369.95" y="534.30" transform="rotate(-45 369.95 534.30)" text-anchor="end" style="font-family:'Liberation Sans',sans-serif;font-size:5.9px" fill="#111" stroke="#111" stroke-width="0.08">Transcription_Translation_Regulation</text>
<line x1="375.64" y1="524.8" x2="375.64" y2="527.6999999999999" stroke="#2a2a2a" stroke-width="1"/>
<text x="378.64" y="534.30" transform="rotate(-45 378.64 534.30)" text-anchor="end" style="font-family:'Liberation Sans',sans-serif;font-size:5.9px" fill="#111" stroke="#111" stroke-width="0.08">Costimulatory</text>
<line x1="384.33" y1="524.8" x2="384.33" y2="527.6999999999999" stroke="#2a2a2a" stroke-width="1"/>
<text x="387.33" y="534.30" transform="rotate(-45 387.33 534.30)" text-anchor="end" style="font-family:'Liberation Sans',sans-serif;font-size:5.9px" fill="#111" stroke="#111" stroke-width="0.08">Antiinflammatory</text>
<line x1="393.02" y1="524.8" x2="393.02" y2="527.6999999999999" stroke="#2a2a2a" stroke-width="1"/>
<text x="396.02" y="534.30" transform="rotate(-45 396.02 534.30)" text-anchor="end" style="font-family:'Liberation Sans',sans-serif;font-size:5.9px" fill="#111" stroke="#111" stroke-width="0.08">IL7_signaling</text>
<line x1="401.71" y1="524.8" x2="401.71" y2="527.6999999999999" stroke="#2a2a2a" stroke-width="1"/>
<text x="404.71" y="534.30" transform="rotate(-45 404.71 534.30)" text-anchor="end" style="font-family:'Liberation Sans',sans-serif;font-size:5.9px" fill="#111" stroke="#111" stroke-width="0.08">NFKB_Negative_regulators</text>
<line x1="410.40" y1="524.8" x2="410.40" y2="527.6999999999999" stroke="#2a2a2a" stroke-width="1"/>
<text x="413.40" y="534.30" transform="rotate(-45 413.40 534.30)" text-anchor="end" style="font-family:'Liberation Sans',sans-serif;font-size:5.9px" fill="#111" stroke="#111" stroke-width="0.08">Antiapoptotic</text>
<line x1="419.09" y1="524.8" x2="419.09" y2="527.6999999999999" stroke="#2a2a2a" stroke-width="1"/>
<text x="422.09" y="534.30" transform="rotate(-45 422.09 534.30)" text-anchor="end" style="font-family:'Liberation Sans',sans-serif;font-size:5.9px" fill="#111" stroke="#111" stroke-width="0.08">Chemotaxis_Migration</text>
<line x1="427.78" y1="524.8" x2="427.78" y2="527.6999999999999" stroke="#2a2a2a" stroke-width="1"/>
<text x="430.78" y="534.30" transform="rotate(-45 430.78 534.30)" text-anchor="end" style="font-family:'Liberation Sans',sans-serif;font-size:5.9px" fill="#111" stroke="#111" stroke-width="0.08">NFKB_TFs</text>
<line x1="436.47" y1="524.8" x2="436.47" y2="527.6999999999999" stroke="#2a2a2a" stroke-width="1"/>
<text x="439.47" y="534.30" transform="rotate(-45 439.47 534.30)" text-anchor="end" style="font-family:'Liberation Sans',sans-serif;font-size:5.9px" fill="#111" stroke="#111" stroke-width="0.08">Nucleotide_Metabolism</text>
<line x1="445.16" y1="524.8" x2="445.16" y2="527.6999999999999" stroke="#2a2a2a" stroke-width="1"/>
<text x="448.16" y="534.30" transform="rotate(-45 448.16 534.30)" text-anchor="end" style="font-family:'Liberation Sans',sans-serif;font-size:5.9px" fill="#111" stroke="#111" stroke-width="0.08">Homeostatic_proliferation</text>
<line x1="453.85" y1="524.8" x2="453.85" y2="527.6999999999999" stroke="#2a2a2a" stroke-width="1"/>
<text x="456.85" y="534.30" transform="rotate(-45 456.85 534.30)" text-anchor="end" style="font-family:'Liberation Sans',sans-serif;font-size:5.9px" fill="#111" stroke="#111" stroke-width="0.08">NOTCH_target_genes</text>
<line x1="462.54" y1="524.8" x2="462.54" y2="527.6999999999999" stroke="#2a2a2a" stroke-width="1"/>
<text x="465.54" y="534.30" transform="rotate(-45 465.54 534.30)" text-anchor="end" style="font-family:'Liberation Sans',sans-serif;font-size:5.9px" fill="#111" stroke="#111" stroke-width="0.08">Tfh_profile</text>
<line x1="471.23" y1="524.8" x2="471.23" y2="527.6999999999999" stroke="#2a2a2a" stroke-width="1"/>
<text x="474.23" y="534.30" transform="rotate(-45 474.23 534.30)" text-anchor="end" style="font-family:'Liberation Sans',sans-serif;font-size:5.9px" fill="#111" stroke="#111" stroke-width="0.08">Th17_profile</text>
<line x1="479.92" y1="524.8" x2="479.92" y2="527.6999999999999" stroke="#2a2a2a" stroke-width="1"/>
<text x="482.92" y="534.30" transform="rotate(-45 482.92 534.30)" text-anchor="end" style="font-family:'Liberation Sans',sans-serif;font-size:5.9px" fill="#111" stroke="#111" stroke-width="0.08">Exhaustion_down</text>
<line x1="488.61" y1="524.8" x2="488.61" y2="527.6999999999999" stroke="#2a2a2a" stroke-width="1"/>
<text x="491.61" y="534.30" transform="rotate(-45 491.61 534.30)" text-anchor="end" style="font-family:'Liberation Sans',sans-serif;font-size:5.9px" fill="#111" stroke="#111" stroke-width="0.08">Naive</text>
<line x1="497.30" y1="524.8" x2="497.30" y2="527.6999999999999" stroke="#2a2a2a" stroke-width="1"/>
<text x="500.30" y="534.30" transform="rotate(-45 500.30 534.30)" text-anchor="end" style="font-family:'Liberation Sans',sans-serif;font-size:5.9px" fill="#111" stroke="#111" stroke-width="0.08">WNT_signaling</text>
<rect x="0.5" y="0.5" width="519" height="609" fill="none" stroke="#000" stroke-width="1.2"/>
</svg>
</body></html>
